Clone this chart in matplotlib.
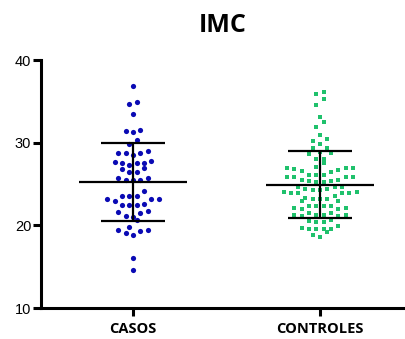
import matplotlib

matplotlib.use("Agg")
import matplotlib.pyplot as plt
import numpy as np

# IMC values
casos = [
    36.8, 34.7, 34.9, 33.5, 31.5, 31.3, 31.4, 30.3, 29.9,
    29.0, 28.8, 28.5, 28.7, 28.8,
    27.8, 27.6, 27.5, 27.3, 27.5, 27.7,
    26.8, 26.4, 26.5, 26.9,
    25.7, 25.5, 25.5, 25.5, 25.7,
    24.1, 23.6, 23.5, 23.6, 23.2, 23.2, 23.2,
    22.6, 22.5, 22.5, 22.5, 22.9,
    21.7, 21.5, 21.6, 21.0, 21.1, 20.6,
    19.8, 19.4, 19.3, 18.8, 19.1, 19.4,
    16.1, 14.6,
]
controles = [
    36.1, 35.9, 35.3, 34.5, 33.1, 32.5, 31.9, 30.9,
    30.5, 30.2, 29.9,
    28.9, 29.3, 29.3, 28.6, 28.8,
    28.0, 28.0, 27.6,
    27.0, 26.9, 26.8, 26.9, 26.9, 26.6, 26.7,
    26.5, 26.1, 25.8, 25.8, 25.8, 25.8, 26.1, 26.1,
    25.5, 25.4, 25.2, 25.2, 25.4, 25.5,
    24.6, 24.4, 24.3, 24.3, 24.4, 24.6, 24.6,
    23.9, 24.0, 23.9, 23.9, 24.0, 23.9,
    23.3, 23.2, 23.0, 22.9, 23.2, 23.2, 23.5,
    22.4, 22.3, 22.1, 22.0, 22.0, 22.1, 22.3, 22.4,
    21.5, 21.3, 21.2, 21.1, 21.1, 21.2, 21.3, 21.5,
    20.5, 20.4, 20.4, 20.6,
    19.9, 19.6, 19.5, 19.6, 19.7, 19.6,
    19.2, 18.8, 18.6,
]
groups = ["CASOS", "CONTROLES"]
colors = ["#0a0ab4", "#1fc16c"]
markers = ["o", "s"]


def row_offsets(vals, bin_h, d):
    """Prism-like scatter: bin values into rows, spread each row sideways (pixels)."""
    order = np.argsort(vals)
    offs = np.zeros(len(vals))
    start = 0
    while start < len(order):
        end = start
        while end < len(order) and vals[order[end]] - vals[order[start]] < bin_h:
            end += 1
        idx = order[start:end]
        n = len(idx)
        slots = (np.arange(n) - (n - 1) / 2) * d
        # put the middle values near the centre
        slots = slots[np.argsort(np.abs(slots), kind="stable")]
        for j, k in enumerate(idx):
            offs[k] = slots[j]
        start = end
    return offs


fig = plt.figure(figsize=(4.06, 3.39), dpi=100)
ax = fig.add_axes([0.101, 0.0914, 0.894, 0.7316])
ax.set_xlim(-0.492, 1.449)
ax.set_ylim(10, 40)

px_per_x = ax.transData.transform((1, 0))[0] - ax.transData.transform((0, 0))[0]

for i, (vals, c, m) in enumerate(zip([casos, controles], colors, markers)):
    vals = np.array(vals)
    offs = row_offsets(vals, 0.85, 7.3) / px_per_x
    ax.scatter(i + offs, vals, s=14 if m == "o" else 12, marker=m, color=c,
               linewidths=0, zorder=2)
    mean, sd = vals.mean(), vals.std(ddof=1)
    ax.hlines(mean, i - 0.29, i + 0.29, color="black", lw=1.6, zorder=3)
    ax.hlines([mean - sd, mean + sd], i - 0.17, i + 0.17, color="black", lw=1.6, zorder=3)
    ax.vlines(i, mean - sd, mean + sd, color="black", lw=1.6, zorder=3)
    print(groups[i], len(vals), mean, mean - sd, mean + sd)

for side in ["top", "right"]:
    ax.spines[side].set_visible(False)
for side in ["left", "bottom"]:
    ax.spines[side].set_linewidth(2.2)

ax.set_yticks([10, 20, 30, 40])
ax.set_xticks([0, 1])
ax.set_xticklabels(groups, fontsize=10.5, fontweight="bold", family="Open Sans")
ax.tick_params(axis="y", labelsize=10.5, width=2.2, length=6, pad=1)
ax.tick_params(axis="x", width=2.2, length=6, pad=4)
for lab in ax.get_yticklabels():
    lab.set_family("Liberation Sans")

ax.set_title("IMC", fontsize=18, fontweight="bold", family="Open Sans", pad=20)

plt.savefig("out.png", dpi=100)
